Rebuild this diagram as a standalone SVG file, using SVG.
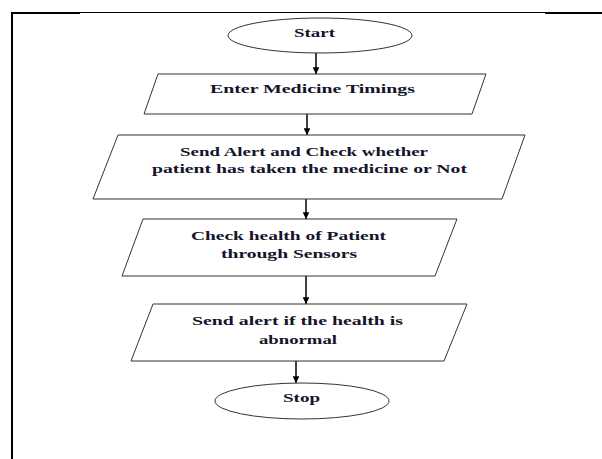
<svg xmlns="http://www.w3.org/2000/svg" width="602" height="459" viewBox="0 0 602 459">
<defs>
<style>
.shape{fill:#fff;stroke:#333;stroke-width:1}
.lbl{font-family:"Liberation Serif","Times New Roman",serif;font-size:13.5px;fill:#14142a;text-anchor:middle;font-weight:bold}
.conn{stroke:#000;stroke-width:1.5;fill:none}
.frame{stroke:#000;fill:none}
</style>
<marker id="ah" viewBox="0 0 10 10" refX="10" refY="5" markerWidth="4.5" markerHeight="4.5" orient="auto" markerUnits="strokeWidth">
<path d="M0,0 L10,5 L0,10 z" fill="#000"/>
</marker>
</defs>
<rect width="602" height="459" fill="#fff"/>
<g id="frame">
<line class="frame" x1="12" y1="12" x2="12" y2="459" stroke-width="2"/>
<line class="frame" x1="11" y1="13" x2="80" y2="13" stroke-width="2"/>
<line class="frame" x1="80" y1="12.5" x2="545" y2="12.5" stroke-width="1"/>
<line class="frame" x1="545" y1="13" x2="602" y2="13" stroke-width="2"/>
</g>
<g id="connectors">
<line class="conn" x1="316" y1="53" x2="316" y2="74" marker-end="url(#ah)"/>
<line class="conn" x1="307" y1="114" x2="307" y2="135" marker-end="url(#ah)"/>
<line class="conn" x1="306" y1="199" x2="306" y2="219" marker-end="url(#ah)"/>
<line class="conn" x1="306" y1="276" x2="306" y2="304" marker-end="url(#ah)"/>
<line class="conn" x1="296" y1="361" x2="296" y2="383" marker-end="url(#ah)"/>
</g>
<g id="start">
<ellipse class="shape" cx="320" cy="35.5" rx="92" ry="17.5"/>
<text class="lbl" x="314.5" y="37" textLength="41" lengthAdjust="spacingAndGlyphs">Start</text>
</g>
<g id="enter-timings">
<polygon class="shape" points="158,74 486,74 472,114 144,114"/>
<text class="lbl" x="312.5" y="92.5" textLength="205" lengthAdjust="spacingAndGlyphs">Enter Medicine Timings</text>
</g>
<g id="send-alert-check">
<polygon class="shape" points="118,135 525,135 502,199 93,199"/>
<text class="lbl" x="304" y="156" textLength="248" lengthAdjust="spacingAndGlyphs">Send Alert and Check whether</text>
<text class="lbl" x="309.5" y="173" textLength="315" lengthAdjust="spacingAndGlyphs">patient has taken the medicine or Not</text>
</g>
<g id="check-health">
<polygon class="shape" points="143,219 457,219 435,276 122,276"/>
<text class="lbl" x="288.5" y="239.5" textLength="195" lengthAdjust="spacingAndGlyphs">Check health of Patient</text>
<text class="lbl" x="289" y="258" textLength="136" lengthAdjust="spacingAndGlyphs">through Sensors</text>
</g>
<g id="send-alert-abnormal">
<polygon class="shape" points="153,304 467,304 444,361 131,361"/>
<text class="lbl" x="297.5" y="325" textLength="211" lengthAdjust="spacingAndGlyphs">Send alert if the health is</text>
<text class="lbl" x="298" y="343.5" textLength="78" lengthAdjust="spacingAndGlyphs">abnormal</text>
</g>
<g id="stop">
<ellipse class="shape" cx="302" cy="401" rx="87" ry="18"/>
<text class="lbl" x="301.5" y="402" textLength="37" lengthAdjust="spacingAndGlyphs">Stop</text>
</g>
</svg>
